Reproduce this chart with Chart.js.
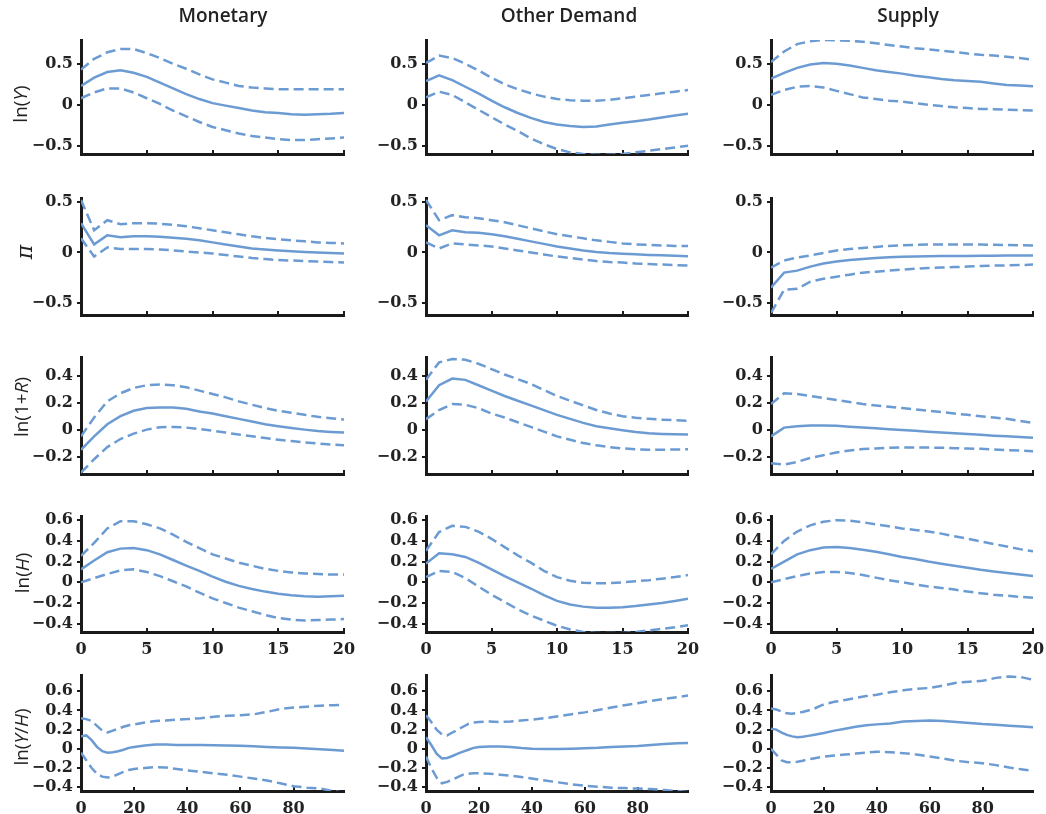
<!DOCTYPE html>
<html>
<head>
<meta charset="utf-8">
<script src="https://cdn.jsdelivr.net/npm/chart.js@4.4.1/dist/chart.umd.min.js"></script>
<style>
  html, body { margin: 0; padding: 0; background: #ffffff; }
  #wrap { position: relative; width: 1046px; height: 814px; overflow: hidden; background: #ffffff; }
  #wrap canvas { position: absolute; }
</style>
</head>
<body>
<div id="wrap"></div>
<script>
// ---------------- DATA ----------------
const shocks = ['Monetary', 'Other Demand', 'Supply'];
const horizonQ = [0,1,2,3,4,5,6,7,8,9,10,11,12,13,14,15,16,17,18,19,20];
const horizonLong = [0,2,4,6,8,10,12,14,16,18,20,24,28,32,36,40,45,50,55,60,65,70,75,80,85,90,95,99];

// ln(Y)
const lnY_mon_med = [0.23,0.33,0.40,0.42,0.39,0.34,0.27,0.20,0.13,0.07,0.02,-0.01,-0.04,-0.07,-0.09,-0.10,-0.115,-0.12,-0.115,-0.11,-0.10];
const lnY_mon_up  = [0.43,0.56,0.64,0.68,0.68,0.63,0.57,0.50,0.44,0.37,0.31,0.27,0.23,0.21,0.20,0.19,0.19,0.19,0.19,0.19,0.19];
const lnY_mon_lo  = [0.08,0.15,0.20,0.20,0.15,0.08,0.01,-0.07,-0.14,-0.21,-0.27,-0.31,-0.35,-0.38,-0.40,-0.42,-0.43,-0.43,-0.42,-0.41,-0.40];
const lnY_dem_med = [0.29,0.36,0.30,0.22,0.14,0.05,-0.03,-0.10,-0.16,-0.21,-0.24,-0.26,-0.27,-0.265,-0.24,-0.22,-0.20,-0.18,-0.155,-0.13,-0.11];
const lnY_dem_up  = [0.51,0.60,0.57,0.50,0.42,0.33,0.25,0.19,0.14,0.10,0.07,0.055,0.05,0.05,0.06,0.08,0.10,0.12,0.14,0.16,0.18];
const lnY_dem_lo  = [0.09,0.16,0.12,0.03,-0.06,-0.15,-0.24,-0.32,-0.41,-0.48,-0.54,-0.58,-0.60,-0.61,-0.61,-0.60,-0.58,-0.56,-0.54,-0.52,-0.50];
const lnY_sup_med = [0.32,0.39,0.45,0.49,0.51,0.50,0.48,0.45,0.42,0.40,0.38,0.355,0.335,0.315,0.30,0.29,0.28,0.26,0.24,0.235,0.225];
const lnY_sup_up  = [0.52,0.65,0.74,0.775,0.79,0.785,0.78,0.77,0.75,0.73,0.71,0.69,0.675,0.66,0.645,0.625,0.61,0.60,0.585,0.57,0.55];
const lnY_sup_lo  = [0.12,0.18,0.22,0.23,0.21,0.17,0.13,0.09,0.07,0.05,0.04,0.02,0.0,-0.015,-0.03,-0.04,-0.05,-0.055,-0.06,-0.065,-0.07];

// pi
const pi_mon_med = [0.29,0.08,0.17,0.15,0.16,0.16,0.155,0.145,0.135,0.12,0.10,0.08,0.06,0.04,0.03,0.02,0.012,0.005,0.0,-0.005,-0.01];
const pi_mon_up  = [0.52,0.22,0.32,0.28,0.29,0.29,0.285,0.275,0.26,0.24,0.22,0.20,0.18,0.16,0.145,0.13,0.12,0.11,0.10,0.095,0.09];
const pi_mon_lo  = [0.14,-0.04,0.05,0.035,0.035,0.035,0.03,0.02,0.01,0.0,-0.01,-0.025,-0.04,-0.055,-0.065,-0.075,-0.08,-0.085,-0.09,-0.095,-0.10];
const pi_dem_med = [0.27,0.17,0.22,0.20,0.195,0.18,0.16,0.135,0.11,0.085,0.06,0.04,0.02,0.005,-0.005,-0.012,-0.018,-0.024,-0.028,-0.033,-0.037];
const pi_dem_up  = [0.52,0.32,0.37,0.35,0.34,0.32,0.30,0.27,0.24,0.21,0.18,0.16,0.14,0.12,0.105,0.09,0.08,0.075,0.07,0.065,0.063];
const pi_dem_lo  = [0.10,0.04,0.09,0.08,0.07,0.06,0.04,0.02,0.0,-0.02,-0.04,-0.055,-0.07,-0.085,-0.095,-0.10,-0.11,-0.115,-0.12,-0.125,-0.13];
const pi_sup_med = [-0.35,-0.20,-0.18,-0.14,-0.11,-0.09,-0.075,-0.065,-0.055,-0.048,-0.043,-0.04,-0.038,-0.036,-0.035,-0.034,-0.033,-0.032,-0.031,-0.03,-0.03];
const pi_sup_up  = [-0.15,-0.08,-0.05,-0.03,-0.005,0.02,0.035,0.045,0.055,0.065,0.07,0.075,0.078,0.08,0.08,0.08,0.078,0.076,0.074,0.072,0.07];
const pi_sup_lo  = [-0.60,-0.37,-0.36,-0.29,-0.26,-0.24,-0.22,-0.20,-0.19,-0.18,-0.17,-0.16,-0.155,-0.15,-0.145,-0.14,-0.135,-0.13,-0.128,-0.125,-0.12];

// ln(1+R)
const lnR_mon_med = [-0.15,-0.05,0.04,0.10,0.14,0.16,0.165,0.165,0.155,0.135,0.12,0.10,0.08,0.06,0.04,0.025,0.012,0.0,-0.01,-0.017,-0.022];
const lnR_mon_up  = [-0.05,0.09,0.21,0.27,0.31,0.33,0.335,0.33,0.315,0.29,0.265,0.24,0.21,0.185,0.16,0.14,0.125,0.11,0.095,0.085,0.075];
const lnR_mon_lo  = [-0.32,-0.22,-0.13,-0.07,-0.03,0.0,0.018,0.02,0.015,0.005,-0.008,-0.022,-0.037,-0.05,-0.063,-0.075,-0.085,-0.095,-0.103,-0.11,-0.117];
const lnR_dem_med = [0.21,0.33,0.38,0.37,0.33,0.29,0.25,0.215,0.18,0.145,0.11,0.08,0.05,0.025,0.01,-0.005,-0.018,-0.027,-0.032,-0.035,-0.037];
const lnR_dem_up  = [0.37,0.50,0.525,0.52,0.49,0.45,0.41,0.375,0.34,0.295,0.25,0.215,0.18,0.146,0.12,0.10,0.088,0.08,0.074,0.07,0.066];
const lnR_dem_lo  = [0.078,0.146,0.19,0.185,0.16,0.12,0.09,0.055,0.02,-0.015,-0.05,-0.075,-0.10,-0.117,-0.13,-0.14,-0.146,-0.15,-0.15,-0.148,-0.146];
const lnR_sup_med = [-0.05,0.015,0.025,0.03,0.03,0.028,0.022,0.016,0.01,0.003,-0.003,-0.009,-0.015,-0.021,-0.027,-0.033,-0.039,-0.045,-0.05,-0.055,-0.06];
const lnR_sup_up  = [0.19,0.27,0.265,0.25,0.235,0.22,0.205,0.19,0.18,0.17,0.16,0.15,0.14,0.13,0.12,0.11,0.10,0.09,0.08,0.065,0.05];
const lnR_sup_lo  = [-0.25,-0.26,-0.24,-0.21,-0.19,-0.17,-0.155,-0.145,-0.14,-0.135,-0.133,-0.132,-0.133,-0.135,-0.138,-0.14,-0.143,-0.147,-0.152,-0.156,-0.16];

// ln(H)
const lnH_mon_med = [0.125,0.21,0.29,0.325,0.33,0.31,0.27,0.215,0.16,0.11,0.055,0.005,-0.035,-0.065,-0.09,-0.11,-0.125,-0.135,-0.14,-0.135,-0.13];
const lnH_mon_up  = [0.255,0.38,0.52,0.59,0.59,0.56,0.52,0.46,0.39,0.33,0.27,0.23,0.19,0.16,0.13,0.11,0.095,0.085,0.08,0.075,0.075];
const lnH_mon_lo  = [0.0,0.04,0.08,0.115,0.125,0.10,0.06,0.01,-0.04,-0.10,-0.155,-0.20,-0.245,-0.28,-0.315,-0.345,-0.36,-0.37,-0.365,-0.36,-0.355];
const lnH_dem_med = [0.18,0.28,0.27,0.245,0.19,0.125,0.06,0.0,-0.06,-0.125,-0.18,-0.215,-0.235,-0.245,-0.245,-0.24,-0.23,-0.215,-0.20,-0.18,-0.16];
const lnH_dem_up  = [0.305,0.485,0.545,0.535,0.49,0.42,0.34,0.26,0.19,0.11,0.05,0.015,-0.005,-0.01,-0.008,0.0,0.01,0.02,0.035,0.05,0.07];
const lnH_dem_lo  = [0.05,0.11,0.10,0.04,-0.04,-0.12,-0.19,-0.26,-0.32,-0.37,-0.42,-0.455,-0.48,-0.49,-0.49,-0.49,-0.48,-0.465,-0.45,-0.435,-0.415];
const lnH_sup_med = [0.13,0.20,0.27,0.31,0.335,0.34,0.33,0.315,0.295,0.27,0.245,0.225,0.20,0.18,0.16,0.14,0.12,0.105,0.09,0.075,0.06];
const lnH_sup_up  = [0.27,0.40,0.49,0.55,0.585,0.60,0.595,0.58,0.56,0.54,0.52,0.505,0.49,0.47,0.445,0.42,0.395,0.37,0.345,0.32,0.30];
const lnH_sup_lo  = [0.0,0.03,0.06,0.085,0.10,0.10,0.09,0.07,0.045,0.02,0.0,-0.02,-0.04,-0.055,-0.07,-0.09,-0.105,-0.12,-0.13,-0.14,-0.15];

// ln(Y/H)
const lnYH_mon_med = [0.13,0.14,0.09,0.02,-0.025,-0.04,-0.035,-0.025,-0.01,0.01,0.02,0.035,0.045,0.045,0.04,0.04,0.04,0.038,0.035,0.032,0.028,0.02,0.015,0.01,0.003,-0.005,-0.012,-0.02];
const lnYH_mon_up  = [0.32,0.31,0.29,0.24,0.19,0.17,0.19,0.21,0.23,0.245,0.255,0.275,0.29,0.295,0.305,0.31,0.32,0.335,0.345,0.35,0.36,0.385,0.415,0.43,0.44,0.45,0.455,0.46];
const lnYH_mon_lo  = [-0.04,-0.12,-0.20,-0.26,-0.29,-0.30,-0.29,-0.265,-0.24,-0.22,-0.21,-0.20,-0.19,-0.195,-0.21,-0.225,-0.24,-0.255,-0.27,-0.29,-0.31,-0.33,-0.36,-0.39,-0.405,-0.415,-0.44,-0.46];
const lnYH_dem_med = [0.12,0.04,-0.05,-0.10,-0.095,-0.075,-0.05,-0.03,-0.01,0.01,0.02,0.025,0.025,0.02,0.008,0.0,-0.003,-0.002,0.0,0.005,0.01,0.02,0.025,0.03,0.04,0.05,0.057,0.06];
const lnYH_dem_up  = [0.35,0.28,0.20,0.15,0.14,0.17,0.20,0.23,0.26,0.275,0.28,0.285,0.28,0.285,0.295,0.305,0.32,0.34,0.36,0.38,0.405,0.43,0.455,0.475,0.50,0.52,0.54,0.555];
const lnYH_dem_lo  = [-0.08,-0.20,-0.30,-0.36,-0.345,-0.32,-0.295,-0.27,-0.26,-0.255,-0.255,-0.26,-0.27,-0.28,-0.295,-0.31,-0.33,-0.35,-0.37,-0.385,-0.395,-0.405,-0.41,-0.415,-0.42,-0.43,-0.44,-0.45];
const lnYH_sup_med = [0.21,0.20,0.17,0.145,0.13,0.12,0.125,0.135,0.145,0.155,0.165,0.19,0.21,0.23,0.245,0.255,0.265,0.285,0.29,0.295,0.29,0.28,0.27,0.258,0.25,0.24,0.232,0.225];
const lnYH_sup_up  = [0.42,0.41,0.39,0.37,0.365,0.375,0.385,0.40,0.415,0.44,0.465,0.49,0.51,0.53,0.55,0.565,0.59,0.61,0.625,0.635,0.66,0.69,0.70,0.71,0.74,0.755,0.745,0.72];
const lnYH_sup_lo  = [0.0,-0.06,-0.12,-0.14,-0.14,-0.135,-0.125,-0.11,-0.10,-0.09,-0.08,-0.07,-0.06,-0.05,-0.04,-0.03,-0.035,-0.045,-0.06,-0.08,-0.10,-0.125,-0.14,-0.15,-0.17,-0.195,-0.215,-0.23];

// ---------------- ASSEMBLY ----------------
const series = [
  [[lnY_mon_med, lnY_mon_up, lnY_mon_lo], [lnY_dem_med, lnY_dem_up, lnY_dem_lo], [lnY_sup_med, lnY_sup_up, lnY_sup_lo]],
  [[pi_mon_med, pi_mon_up, pi_mon_lo], [pi_dem_med, pi_dem_up, pi_dem_lo], [pi_sup_med, pi_sup_up, pi_sup_lo]],
  [[lnR_mon_med, lnR_mon_up, lnR_mon_lo], [lnR_dem_med, lnR_dem_up, lnR_dem_lo], [lnR_sup_med, lnR_sup_up, lnR_sup_lo]],
  [[lnH_mon_med, lnH_mon_up, lnH_mon_lo], [lnH_dem_med, lnH_dem_up, lnH_dem_lo], [lnH_sup_med, lnH_sup_up, lnH_sup_lo]],
  [[lnYH_mon_med, lnYH_mon_up, lnYH_mon_lo], [lnYH_dem_med, lnYH_dem_up, lnYH_dem_lo], [lnYH_sup_med, lnYH_sup_up, lnYH_sup_lo]]
];

const BLUE = '#6b9bd2';
const AXIS = '#1a1a1a';
const TXT = '#222222';
const SANS = '"Open Sans", "DejaVu Sans", sans-serif';
const TICK_FONT = { family: '"DejaVu Serif", "Liberation Serif", serif', weight: 'bold', size: 16 };

const colArea = [[81, 344], [426, 688], [771, 1033]];
const canvasX = [0, 352, 697];
const rowArea = [[40, 154], [198, 315], [357, 474], [516, 632], [675, 791]];
const yAxisCfg = [[-0.6, 0.79, 0.5], [-0.62, 0.54, 0.5], [-0.33, 0.54, 0.2], [-0.48, 0.64, 0.2], [-0.44, 0.77, 0.2]];
const PAD_R = 28;

const N = '19px ' + SANS, I = 'italic 19px ' + SANS;
const yTitles = [
  { y: 104, x: 22, segs: [['ln(', N], ['Y', I], [')', N]] },
  { y: 252, x: 26, segs: [['π', 'italic 22px "DejaVu Serif", serif']] },
  { y: 407, x: 23, segs: [['ln(1+', N], ['R', I], [')', N]] },
  { y: 573, x: 24, segs: [['ln(', N], ['H', I], [')', N]] },
  { y: 737, x: 23, segs: [['ln(', N], ['Y', I], ['/', N], ['H', I], [')', N]] }
];
const colTitles = [{ x: 223, y: 17 }, { x: 569, y: 17 }, { x: 908, y: 17 }];
const TITLE_FONT = '600 19px ' + SANS;

function fmtY(v) {
  const r = Math.round(v * 100) / 100;
  if (r === 0) return '0';
  return (r < 0 ? '\u2212' : '') + String(Math.abs(r));
}

function textPlugin(items) {
  return {
    id: 'panelText',
    afterDraw(chart) {
      const ctx = chart.ctx;
      items.forEach(it => {
        ctx.save();
        ctx.translate(it.x, it.y);
        if (it.rotate) ctx.rotate(it.rotate);
        ctx.fillStyle = TXT;
        ctx.textBaseline = 'middle';
        ctx.textAlign = 'left';
        let total = 0;
        it.segs.forEach(s => { ctx.font = s[1]; total += ctx.measureText(s[0]).width; });
        let x = -total / 2;
        it.segs.forEach(s => { ctx.font = s[1]; ctx.fillText(s[0], x, 0); x += ctx.measureText(s[0]).width; });
        ctx.restore();
      });
    }
  };
}

const wrap = document.getElementById('wrap');

for (let r = 0; r < 5; r++) {
  for (let c = 0; c < 3; c++) {
    const [aL, aR] = colArea[c];
    const [aT, aB] = rowArea[r];
    const padTop = r === 0 ? aT : 14;
    const top = aT - padTop;
    const yW = aL - canvasX[c];
    const longH = r === 4;
    const showX = r >= 3;
    const xH = showX ? 26 : 14;
    const W = yW + (aR - aL) + PAD_R;
    const H = padTop + (aB - aT) + xH;

    const cv = document.createElement('canvas');
    cv.width = W; cv.height = H;
    cv.style.left = canvasX[c] + 'px';
    cv.style.top = top + 'px';
    cv.style.width = W + 'px';
    cv.style.height = H + 'px';
    wrap.appendChild(cv);

    const xs = longH ? horizonLong : horizonQ;
    const [med, up, lo] = series[r][c];
    const toXY = arr => arr.map((v, i) => ({ x: xs[i], y: v }));

    const items = [];
    if (r === 0) {
      items.push({ x: colTitles[c].x - canvasX[c], y: colTitles[c].y - top, segs: [[shocks[c], TITLE_FONT]] });
    }
    if (c === 0) {
      const t = yTitles[r];
      items.push({ x: t.x - canvasX[c], y: t.y - top, rotate: -Math.PI / 2, segs: t.segs });
    }

    const [yMin, yMax, yStep] = yAxisCfg[r];
    const line = (data, dash) => ({
      data, borderColor: BLUE, borderWidth: 2.5, borderDash: dash, pointRadius: 0,
      fill: false, tension: 0, borderCapStyle: 'butt'
    });

    new Chart(cv, {
      type: 'line',
      data: { datasets: [line(toXY(up), [10, 5]), line(toXY(lo), [10, 5]), line(toXY(med), [])] },
      options: {
        responsive: false,
        animation: false,
        events: [],
        layout: { padding: { top: padTop, right: PAD_R, left: 0, bottom: 0 } },
        plugins: { legend: { display: false }, tooltip: { enabled: false }, title: { display: false } },
        scales: {
          x: {
            type: 'linear', min: 0, max: longH ? 99 : 20,
            grid: { display: true, drawOnChartArea: false, drawTicks: true, tickLength: -4, color: AXIS, lineWidth: 2 },
            border: { display: true, color: AXIS, width: 3 },
            ticks: {
              display: showX, stepSize: longH ? 20 : 5, includeBounds: false, padding: 12,
              color: TXT, font: TICK_FONT, maxRotation: 0, autoSkip: false,
              callback: v => String(v)
            },
            afterFit: s => { s.height = xH; }
          },
          y: {
            min: yMin, max: yMax,
            grid: { display: true, drawOnChartArea: false, drawTicks: true, tickLength: 4, color: AXIS, lineWidth: 2 },
            border: { display: true, color: AXIS, width: 3 },
            ticks: {
              stepSize: yStep, includeBounds: false, padding: 4,
              color: TXT, font: TICK_FONT, autoSkip: false,
              callback: fmtY
            },
            afterFit: s => { s.width = yW; }
          }
        }
      },
      plugins: [textPlugin(items)]
    });
  }
}
</script>
</body>
</html>
